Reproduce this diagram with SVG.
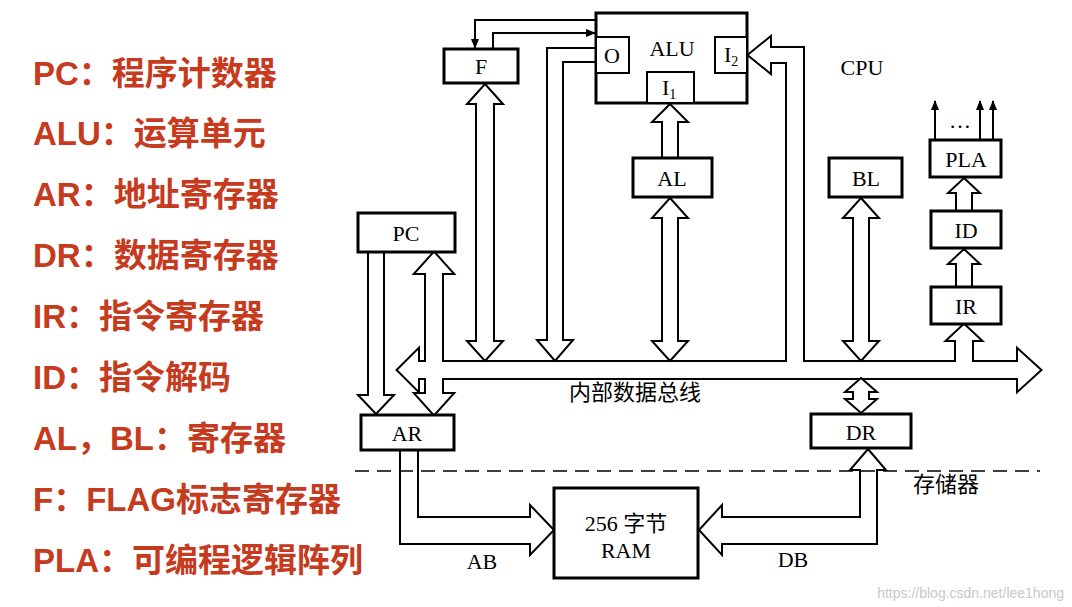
<svg xmlns="http://www.w3.org/2000/svg" width="1072" height="607" viewBox="0 0 1072 607">
<defs>
<marker id="ah" markerWidth="10" markerHeight="10" refX="9" refY="5" orient="auto" markerUnits="userSpaceOnUse"><path d="M0,1 L10,5 L0,9 Z" fill="#000"/></marker>
<style>
.leg{font-family:"Liberation Sans","Noto Sans CJK SC",sans-serif;font-weight:bold;font-size:33px;fill:#C63A1E}
.t{font-family:"Liberation Serif","Noto Sans CJK SC",serif;font-size:22px;fill:#000}
.box{fill:#fff;stroke:#000;stroke-width:3}
.sub{fill:#fff;stroke:#000;stroke-width:2}
.ch{fill:#fff;stroke:#000;stroke-width:2;stroke-linejoin:miter}
.uo{fill:none;stroke:#000;stroke-width:4}
.uf{fill:#fff;stroke:none}
.w{fill:none;stroke:#000;stroke-width:2}
</style>
</defs>
<rect width="1072" height="607" fill="#fff"/>
<g id="legend">
<text class="leg" x="33" y="85">PC：程序计数器</text>
<text class="leg" x="33" y="145">ALU：运算单元</text>
<text class="leg" x="33" y="206">AR：地址寄存器</text>
<text class="leg" x="33" y="267">DR：数据寄存器</text>
<text class="leg" x="33" y="328">IR：指令寄存器</text>
<text class="leg" x="33" y="389">ID：指令解码</text>
<text class="leg" x="33" y="450">AL，BL：寄存器</text>
<text class="leg" x="33" y="511">F：FLAG标志寄存器</text>
<text class="leg" x="33" y="572">PLA：可编程逻辑阵列</text>
</g>
<g id="connectors">
<g id="bus-union">
<polygon class="uo" points="398,370 418,350 418,362 1018,362 1018,350 1040,370 1018,390 1018,378 418,378 418,390"/>
<polygon class="uo" points="434,253 452,273 442,273 442,394 452,394 434,414 416,394 426,394 426,273 416,273"/>
<polygon class="uo" points="787,370 787,62 770,62 770,72 749,55 770,38 770,48 803,48 803,370"/>
<polygon class="uo" points="964,325 980,340 972,340 972,370 956,370 956,340 948,340"/>
<polygon class="uf" points="398,370 418,350 418,362 1018,362 1018,350 1040,370 1018,390 1018,378 418,378 418,390"/>
<polygon class="uf" points="434,253 452,273 442,273 442,394 452,394 434,414 416,394 426,394 426,273 416,273"/>
<polygon class="uf" points="787,370 787,62 770,62 770,72 749,55 770,38 770,48 803,48 803,370"/>
<polygon class="uf" points="964,325 980,340 972,340 972,370 956,370 956,340 948,340"/>
</g>
<polygon class="ch" points="485,84 503,104 494,104 494,341 503,341 485,361 467,341 476,341 476,104 467,104"/>
<polygon class="ch" points="596,48 547,48 547,340 537,340 555,361 573,340 563,340 563,62 596,62"/>
<polygon class="ch" points="670,104 688,122 678,122 678,158 662,158 662,122 652,122"/>
<polygon class="ch" points="670,198 688,218 678,218 678,341 688,341 670,361 652,341 662,341 662,218 652,218"/>
<polygon class="ch" points="861,198 879,218 869,218 869,341 879,341 861,361 843,341 853,341 853,218 843,218"/>
<polygon class="ch" points="861,378 877,392 869,392 869,399 877,399 861,413 845,399 853,399 853,392 845,392"/>
<polygon class="ch" points="964,178 980,193 972,193 972,211 956,211 956,193 948,193"/>
<polygon class="ch" points="964,249 980,264 972,264 972,287 956,287 956,264 948,264"/>
<polygon class="ch" points="368,252 384,252 384,395 394,395 376,414 358,395 368,395"/>
<polygon class="ch" points="400,450 400,544 530,544 530,555 554,530 530,505 530,517 418,517 418,450"/>
<polygon class="ch" points="868,449 886,470 877,470 877,544 722,544 722,555 699,530 722,505 722,517 860,517 860,470 850,470"/>
<polyline class="w" points="596,20 475,20 475,48" marker-end="url(#ah)"/>
<polyline class="w" points="493,49 493,33 595,33" marker-end="url(#ah)"/>
<line class="w" x1="935" y1="140" x2="935" y2="101" marker-end="url(#ah)"/>
<line class="w" x1="980" y1="140" x2="980" y2="101" marker-end="url(#ah)"/>
<line class="w" x1="993" y1="140" x2="993" y2="101" marker-end="url(#ah)"/>
<line x1="355" y1="471" x2="1040" y2="471" stroke="#000" stroke-width="1.5" stroke-dasharray="14,8"/>
</g>
<g id="ALU">
<rect class="box" x="596" y="13" width="151" height="90"/>
<text class="t" x="672" y="56" text-anchor="middle">ALU</text>
</g>
<g id="O"><rect class="sub" x="596" y="37" width="33" height="36"/><text class="t" x="612" y="63" text-anchor="middle">O</text></g>
<g id="I2"><rect class="sub" x="715" y="37" width="32" height="36"/><text class="t" x="724" y="62">I<tspan font-size="14" dy="4">2</tspan></text></g>
<g id="I1"><rect class="sub" x="647" y="72" width="47" height="31"/><text class="t" x="662" y="95">I<tspan font-size="14" dy="4">1</tspan></text></g>
<g id="F"><rect class="box" x="444" y="49" width="74" height="34"/><text class="t" x="481" y="74" text-anchor="middle">F</text></g>
<g id="AL"><rect class="box" x="633" y="158" width="79" height="39"/><text class="t" x="672" y="186" text-anchor="middle">AL</text></g>
<g id="BL"><rect class="box" x="829" y="158" width="73" height="39"/><text class="t" x="866" y="186" text-anchor="middle">BL</text></g>
<g id="PLA"><rect class="box" x="930" y="140" width="71" height="37"/><text class="t" x="966" y="167" text-anchor="middle">PLA</text><text class="t" x="960" y="128" text-anchor="middle">…</text></g>
<g id="ID"><rect class="box" x="931" y="211" width="70" height="37"/><text class="t" x="966" y="238" text-anchor="middle">ID</text></g>
<g id="IR"><rect class="box" x="931" y="287" width="70" height="37"/><text class="t" x="966" y="314" text-anchor="middle">IR</text></g>
<g id="PC"><rect class="box" x="358" y="213" width="97" height="39"/><text class="t" x="406" y="241" text-anchor="middle">PC</text></g>
<g id="AR"><rect class="box" x="361" y="415" width="93" height="35"/><text class="t" x="407" y="441" text-anchor="middle">AR</text></g>
<g id="DR"><rect class="box" x="811" y="414" width="100" height="34"/><text class="t" x="861" y="440" text-anchor="middle">DR</text></g>
<g id="RAM"><rect class="box" x="554" y="488" width="144" height="90" stroke-width="4"/><text class="t" x="626" y="531" text-anchor="middle">256 字节</text><text class="t" x="626" y="558" text-anchor="middle">RAM</text></g>
<g id="labels">
<text class="t" x="862" y="75" text-anchor="middle">CPU</text>
<text class="t" x="635" y="400" text-anchor="middle">内部数据总线</text>
<text class="t" x="946" y="492" text-anchor="middle">存储器</text>
<text class="t" x="482" y="569" text-anchor="middle">AB</text>
<text class="t" x="793" y="567" text-anchor="middle">DB</text>
<text x="1064" y="598" text-anchor="end" font-family="Liberation Sans, sans-serif" font-size="14" fill="#c8c8c8">https://blog.csdn.net/lee1hong</text>
</g>
</svg>
